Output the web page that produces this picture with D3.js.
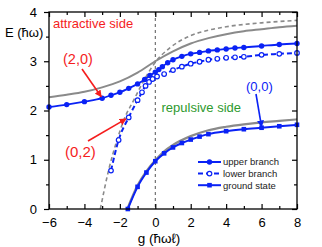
<!DOCTYPE html>
<html>
<head>
<meta charset="utf-8">
<script src="https://cdn.jsdelivr.net/npm/d3@7"></script>
<style>
  body { margin: 0; background: #fff; }
  svg { font-family: "Liberation Sans", Arial, sans-serif; }
</style>
</head>
<body>
<div id="chart"></div>
<script>
(function () {

    // upper branch (filled circles)
    var upperG = [-6, -5, -4, -3, -2.5, -2, -1.5, -1, -0.6, -0.3, 0, 0.2, 0.4, 0.7, 1, 1.5, 2, 2.5, 3, 3.5, 4, 4.5, 5, 6, 7, 8];
    var upperE = [2.07, 2.12, 2.18, 2.25, 2.31, 2.37, 2.45, 2.54, 2.63, 2.71, 2.78, 2.83, 2.89, 2.97, 3.03, 3.10, 3.15, 3.18, 3.21, 3.23, 3.25, 3.27, 3.28, 3.31, 3.34, 3.36];

    // lower branch (open circles)
    var lowerG = [-2.5, -2.07, -1.5, -1, -0.75, -0.55, -0.35, -0.15, 0.1, 0.5, 1, 1.5, 2, 2.5, 3, 3.5, 4, 4.5, 5, 6, 7, 8];
    var lowerE = [0.78, 1.40, 1.86, 2.21, 2.37, 2.50, 2.58, 2.64, 2.69, 2.74, 2.82, 2.89, 2.95, 2.99, 3.03, 3.05, 3.07, 3.08, 3.09, 3.13, 3.15, 3.17];

    // ground state (squares)
    var groundG = [-1.55, -1, -0.5, 0, 0.5, 1, 1.5, 2, 2.5, 3, 4, 5, 6, 7, 8];
    var groundE = [0, 0.45, 0.74, 0.97, 1.13, 1.25, 1.34, 1.41, 1.47, 1.52, 1.58, 1.62, 1.65, 1.68, 1.71];

    // gray reference curves
    var grayUpG = [-6, -5, -4, -3, -2, -1, 0, 1, 2, 3, 4, 5, 6, 7, 8];
    var grayUpE = [2.27, 2.32, 2.38, 2.47, 2.59, 2.77, 3.0, 3.2, 3.36, 3.47, 3.55, 3.61, 3.65, 3.69, 3.72];
    var grayLowG = [-1.58, -1, -0.5, 0, 0.5, 1, 2, 3, 4, 5, 6, 7, 8];
    var grayLowE = [0, 0.48, 0.77, 0.99, 1.17, 1.30, 1.48, 1.60, 1.67, 1.72, 1.76, 1.79, 1.82];
    var grayDashG = [-3.1, -2.64, -2.16, -1.75, -1.23, -0.66, 0, 0.85, 2, 3, 4, 6, 8];
    var grayDashE = [0, 0.78, 1.40, 1.83, 2.2, 2.6, 2.98, 3.28, 3.52, 3.63, 3.70, 3.78, 3.83];

    var xTicks = [-6, -4, -2, 0, 2, 4, 6, 8];
    var yTicks = [0, 1, 2, 3, 4];
    var legendNames = ["upper branch", "lower branch", "ground state"];

    var blue = "#0a22f5", gray = "#8a8a8a", red = "#f51d1d", green = "#2e9a2e";

    var width = 322, height = 247;
    var margin = { left: 49, right: 25, top: 12, bottom: 38 };

    var svg = d3.select("#chart").append("svg")
        .attr("width", width)
        .attr("height", height);

    var x = d3.scaleLinear().domain([-6, 8]).range([margin.left, width - margin.right]);
    var y = d3.scaleLinear().domain([0, 4]).range([height - margin.bottom, margin.top]);

    function pts(gs, es) {
        return gs.map(function (g, i) { return { g: g, e: es[i] }; });
    }

    var line = d3.line()
        .x(function (d) { return x(d.g); })
        .y(function (d) { return y(d.e); })
        .curve(d3.curveMonotoneX);

    svg.append("clipPath").attr("id", "clip")
        .append("rect")
        .attr("x", x(-6)).attr("y", y(4))
        .attr("width", x(8) - x(-6)).attr("height", y(0) - y(4));

    var plot = svg.append("g").attr("clip-path", "url(#clip)");

    //vertical dashed zero line
    plot.append("line")
        .attr("x1", x(0)).attr("x2", x(0))
        .attr("y1", y(4)).attr("y2", y(0))
        .attr("stroke", "#555").attr("stroke-width", 1)
        .attr("stroke-dasharray", "3,3");

    //gray curves
    plot.append("path").datum(pts(grayUpG, grayUpE))
        .attr("d", line).attr("fill", "none")
        .attr("stroke", gray).attr("stroke-width", 2);
    plot.append("path").datum(pts(grayLowG, grayLowE))
        .attr("d", line).attr("fill", "none")
        .attr("stroke", gray).attr("stroke-width", 2.2);
    plot.append("path").datum(pts(grayDashG, grayDashE))
        .attr("d", line).attr("fill", "none")
        .attr("stroke", gray).attr("stroke-width", 1.6)
        .attr("stroke-dasharray", "4,3");

    //blue series
    var upper = pts(upperG, upperE),
        lower = pts(lowerG, lowerE),
        ground = pts(groundG, groundE);

    plot.append("path").datum(upper)
        .attr("d", line).attr("fill", "none")
        .attr("stroke", blue).attr("stroke-width", 1.8);
    plot.append("path").datum(lower)
        .attr("d", line).attr("fill", "none")
        .attr("stroke", blue).attr("stroke-width", 2)
        .attr("stroke-dasharray", "5,3");
    plot.append("path").datum(ground)
        .attr("d", line).attr("fill", "none")
        .attr("stroke", blue).attr("stroke-width", 2);

    svg.append("g").selectAll("circle").data(upper).enter().append("circle")
        .attr("cx", function (d) { return x(d.g); })
        .attr("cy", function (d) { return y(d.e); })
        .attr("r", 2.7).attr("fill", blue);
    svg.append("g").selectAll("circle").data(lower).enter().append("circle")
        .attr("cx", function (d) { return x(d.g); })
        .attr("cy", function (d) { return y(d.e); })
        .attr("r", 2.3).attr("fill", "#fff")
        .attr("stroke", blue).attr("stroke-width", 1.2);
    svg.append("g").selectAll("rect").data(ground).enter().append("rect")
        .attr("x", function (d) { return x(d.g) - 2.3; })
        .attr("y", function (d) { return y(d.e) - 2.3; })
        .attr("width", 4.6).attr("height", 4.6).attr("fill", blue);

    //axes
    function styleAxis(g) {
        g.select(".domain").remove();
        g.selectAll("line").attr("stroke", "#000").attr("stroke-width", 1.2);
        g.selectAll("text").attr("font-size", 13).attr("fill", "#000")
            .attr("font-family", "Liberation Sans, Arial, sans-serif");
    }
    var xMinor = d3.range(-5, 8, 2);
    var yMinor = d3.range(0.5, 4, 1);

    svg.append("g").attr("transform", "translate(0," + y(0) + ")")
        .call(d3.axisBottom(x).tickValues(xTicks).tickSize(-5).tickPadding(9).tickFormat(d3.format("d")))
        .call(styleAxis);
    svg.append("g").attr("transform", "translate(0," + y(0) + ")")
        .call(d3.axisBottom(x).tickValues(xMinor).tickSize(-3).tickFormat(""))
        .call(styleAxis);
    svg.append("g").attr("transform", "translate(0," + y(4) + ")")
        .call(d3.axisTop(x).tickValues(xTicks).tickSize(-5).tickFormat(""))
        .call(styleAxis);
    svg.append("g").attr("transform", "translate(0," + y(4) + ")")
        .call(d3.axisTop(x).tickValues(xMinor).tickSize(-3).tickFormat(""))
        .call(styleAxis);
    svg.append("g").attr("transform", "translate(" + x(-6) + ",0)")
        .call(d3.axisLeft(y).tickValues(yTicks).tickSize(5).tickPadding(7).tickFormat(d3.format("d")))
        .call(styleAxis);
    svg.append("g").attr("transform", "translate(" + x(-6) + ",0)")
        .call(d3.axisLeft(y).tickValues(yMinor).tickSize(3).tickFormat(""))
        .call(styleAxis);
    svg.append("g").attr("transform", "translate(" + x(8) + ",0)")
        .call(d3.axisRight(y).tickValues(yTicks).tickSize(-5).tickFormat(""))
        .call(styleAxis);
    svg.append("g").attr("transform", "translate(" + x(8) + ",0)")
        .call(d3.axisRight(y).tickValues(yMinor).tickSize(-3).tickFormat(""))
        .call(styleAxis);

    svg.append("rect")
        .attr("x", x(-6)).attr("y", y(4))
        .attr("width", x(8) - x(-6)).attr("height", y(0) - y(4))
        .attr("fill", "none").attr("stroke", "#000").attr("stroke-width", 1.3);

    //axis labels
    svg.append("text").attr("x", 5).attr("y", 37)
        .attr("font-size", 13).text("E (ħω)");
    svg.append("text").attr("x", 159).attr("y", 243)
        .attr("text-anchor", "middle").attr("font-size", 13.5).text("g (ħωℓ)");

    //annotations
    svg.append("text").attr("x", 53).attr("y", 28)
        .attr("font-size", 13).attr("fill", red).text("attractive side");
    svg.append("text").attr("x", 161.5).attr("y", 112)
        .attr("font-size", 13).attr("fill", green).text("repulsive side");

    var defs = svg.append("defs");
    function marker(id, color) {
        defs.append("marker").attr("id", id)
            .attr("viewBox", "0 0 10 10").attr("refX", 9).attr("refY", 5)
            .attr("markerWidth", 7).attr("markerHeight", 7)
            .attr("markerUnits", "userSpaceOnUse")
            .attr("orient", "auto")
            .append("path").attr("d", "M0,0L10,5L0,10Z").attr("fill", color);
    }
    marker("arR", red);
    marker("arB", blue);

    function arrow(x1, y1, g, e, color, id) {
        svg.append("line")
            .attr("x1", x1).attr("y1", y1)
            .attr("x2", x(g)).attr("y2", y(e))
            .attr("stroke", color).attr("stroke-width", 1.6)
            .attr("marker-end", "url(#" + id + ")");
    }

    svg.append("text").attr("x", 63).attr("y", 64)
        .attr("font-size", 14.5).attr("fill", red).text("(2,0)");
    arrow(82, 69, -3.05, 2.28, red, "arR");

    svg.append("text").attr("x", 65).attr("y", 157)
        .attr("font-size", 15).attr("fill", red).text("(0,2)");
    arrow(88, 141, -1.65, 1.83, red, "arR");

    svg.append("text").attr("x", 246).attr("y", 91)
        .attr("font-size", 13).attr("fill", blue).text("(0,0)");
    arrow(256, 94, 6, 1.67, blue, "arB");

    //legend
    var leg = svg.append("g").selectAll("g").data(legendNames).enter().append("g")
        .attr("transform", function (d, i) { return "translate(198," + (162 + i * 11.6) + ")"; });
    leg.append("line")
        .attr("x1", 0).attr("x2", 23).attr("y1", 0).attr("y2", 0)
        .attr("stroke", blue).attr("stroke-width", 2)
        .attr("stroke-dasharray", function (d, i) { return i === 1 ? "5,3" : null; });
    leg.each(function (d, i) {
        var g = d3.select(this);
        if (i === 0) g.append("circle").attr("cx", 11.5).attr("r", 2.7).attr("fill", blue);
        if (i === 1) g.append("circle").attr("cx", 11.5).attr("r", 2.3).attr("fill", "#fff")
            .attr("stroke", blue).attr("stroke-width", 1.2);
        if (i === 2) g.append("rect").attr("x", 9.2).attr("y", -2.3)
            .attr("width", 4.6).attr("height", 4.6).attr("fill", blue);
    });
    leg.append("text").attr("x", 25).attr("dy", "0.35em")
        .attr("font-size", 9.5).attr("fill", "#222")
        .text(function (d) { return d; });

})();
</script>
</body>
</html>
